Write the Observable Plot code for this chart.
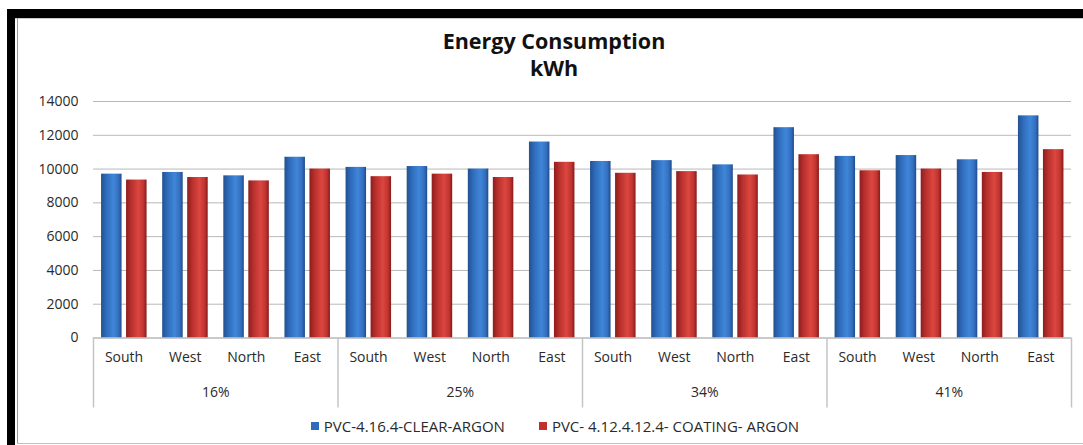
<!DOCTYPE html>
<html>
<head>
<meta charset="utf-8">
<script src="https://cdn.jsdelivr.net/npm/d3@7"></script>
<script src="https://cdn.jsdelivr.net/npm/@observablehq/plot@0.6"></script>
<style>
  html, body { margin: 0; padding: 0; background: #fff; }
  #wrap { position: relative; width: 1083px; height: 445px; overflow: hidden; background: #fff; font-family: "Open Sans", sans-serif; }
  .blk-top { position: absolute; left: 7px; right: 0; top: 9px; height: 9px; background: #000; }
  .blk-left { position: absolute; left: 7px; top: 9px; width: 8px; bottom: 0; background: #000; }
  .thin-left { position: absolute; left: 17px; top: 18px; width: 1px; bottom: 1px; background: #9a9a9a; }
  .thin-top { position: absolute; left: 15px; right: 0; top: 18px; height: 1px; background: #c8c8c8; }
  .thin-bottom { position: absolute; left: 17px; right: 0; top: 443px; height: 1px; background: #c0c0c0; }
  .title { position: absolute; left: 0; width: 1108px; text-align: center; font-weight: bold; font-size: 21.5px; line-height: 22px; height: 22px; color: #111; }
  #t1 { top: 30px; }
  #t2 { top: 57px; }
  #chart { position: absolute; left: 0; top: 0; }
  #legend { position: absolute; top: 416px; left: 0; width: 1110px; text-align: center; font-size: 15px; color: #2a2a2a; white-space: nowrap; }
  #legend span.sw { display: inline-block; width: 8px; height: 8px; margin-right: 5px; vertical-align: 2px; }
  #legend span.item { margin: 0 17px; }
</style>
</head>
<body>
<div id="wrap">
  <div class="blk-top"></div>
  <div class="blk-left"></div>
  <div class="thin-top"></div>
  <div class="thin-left"></div>
  <div class="thin-bottom"></div>
  <div id="chart"></div>
  <div class="title" id="t1">Energy Consumption</div>
  <div class="title" id="t2">kWh</div>
  <div id="legend"></div>
</div>
<script>
// ---- data ----
const groups = ["16%", "25%", "34%", "41%"];
const directions = ["South", "West", "North", "East"];
const seriesNames = ["PVC-4.16.4-CLEAR-ARGON", "PVC- 4.12.4.12.4- COATING- ARGON"];
const clearArgon = [9700, 9800, 9600, 10700, 10100, 10150, 10000, 11600, 10450, 10500, 10250, 12450, 10750, 10800, 10550, 13150];
const coatingArgon = [9350, 9500, 9300, 10000, 9550, 9700, 9500, 10400, 9750, 9850, 9650, 10850, 9900, 10000, 9800, 11150];
const yTicks = [0, 2000, 4000, 6000, 8000, 10000, 12000, 14000];

// ---- build table ----
const rows = [];
groups.forEach((g, gi) => directions.forEach((d, di) => {
  const pos = gi * directions.length + di;
  rows.push({pos, group: g, dir: d, series: 0, value: clearArgon[pos]});
  rows.push({pos, group: g, dir: d, series: 1, value: coatingArgon[pos]});
}));
const n = groups.length * directions.length;
const catPos = d3.range(n);
const groupCenters = groups.map((g, i) => i * directions.length + (directions.length - 1) / 2);
const separators = d3.range(groups.length + 1).map(i => i * directions.length - 0.5);

// bar geometry in category units
const unit = (1071 - 93) / n;
const off = [[-22.5 / unit, -2 / unit], [2.5 / unit, 23 / unit]];
const fills = ["url(#gBlue)", "url(#gRed)"];

function defs() {
  const ns = "http://www.w3.org/2000/svg";
  const g = document.createElementNS(ns, "defs");
  const mk = (id, stops) => {
    const lg = document.createElementNS(ns, "linearGradient");
    lg.setAttribute("id", id);
    lg.setAttribute("x1", "0"); lg.setAttribute("x2", "1"); lg.setAttribute("y1", "0"); lg.setAttribute("y2", "0");
    stops.forEach(([o, c]) => {
      const s = document.createElementNS(ns, "stop");
      s.setAttribute("offset", o); s.setAttribute("stop-color", c);
      lg.appendChild(s);
    });
    g.appendChild(lg);
  };
  mk("gBlue", [["0", "#22518f"], ["0.25", "#2f6bbb"], ["0.6", "#3f86d8"], ["0.85", "#346fc0"], ["1", "#1f4c88"]]);
  mk("gRed", [["0", "#8e1d1d"], ["0.25", "#b8302d"], ["0.6", "#dc4640"], ["0.85", "#c0342f"], ["1", "#851a1a"]]);
  return g;
}

const plot = Plot.plot({
  width: 1083,
  height: 415,
  marginLeft: 93,
  marginRight: 12,
  marginTop: 101,
  marginBottom: 77.5,
  style: {fontFamily: "Open Sans, sans-serif", fontSize: "14px", color: "#2a2a2a", background: "transparent"},
  x: {type: "linear", domain: [-0.5, n - 0.5], axis: null},
  y: {domain: [0, 14000], axis: null},
  marks: [
    defs,
    Plot.gridY(yTicks, {stroke: "#b8b8b8", strokeOpacity: 1}),
    Plot.axisY(yTicks, {tickSize: 0, tickPadding: 15, tickFormat: d => String(d), fontSize: 14, label: null}),
    Plot.rectY(rows, {
      x1: d => d.pos + off[d.series][0],
      x2: d => d.pos + off[d.series][1],
      y1: 0,
      y2: "value",
      fill: d => fills[d.series]
    }),
    Plot.ruleY([0], {stroke: "#b8b8b8"}),
    Plot.axisX(separators, {tickSize: 70, stroke: "#c4c4c4", tickFormat: () => "", strokeWidth: 1.5, label: null}),
    Plot.axisX(catPos, {tickSize: 0, tickPadding: 14, tickFormat: i => directions[i % directions.length], fontSize: 14, label: null}),
    Plot.axisX(groupCenters, {tickSize: 0, tickPadding: 49, tickFormat: c => groups[Math.round((c - 1.5) / directions.length)], fontSize: 14, label: null})
  ]
});
document.getElementById("chart").appendChild(plot);

// legend
const colors = ["#2f6bbb", "#c0302d"];
document.getElementById("legend").innerHTML = seriesNames.map((s, i) =>
  `<span class="item"><span class="sw" style="background:${colors[i]}"></span>${s}</span>`).join("");
</script>
</body>
</html>
